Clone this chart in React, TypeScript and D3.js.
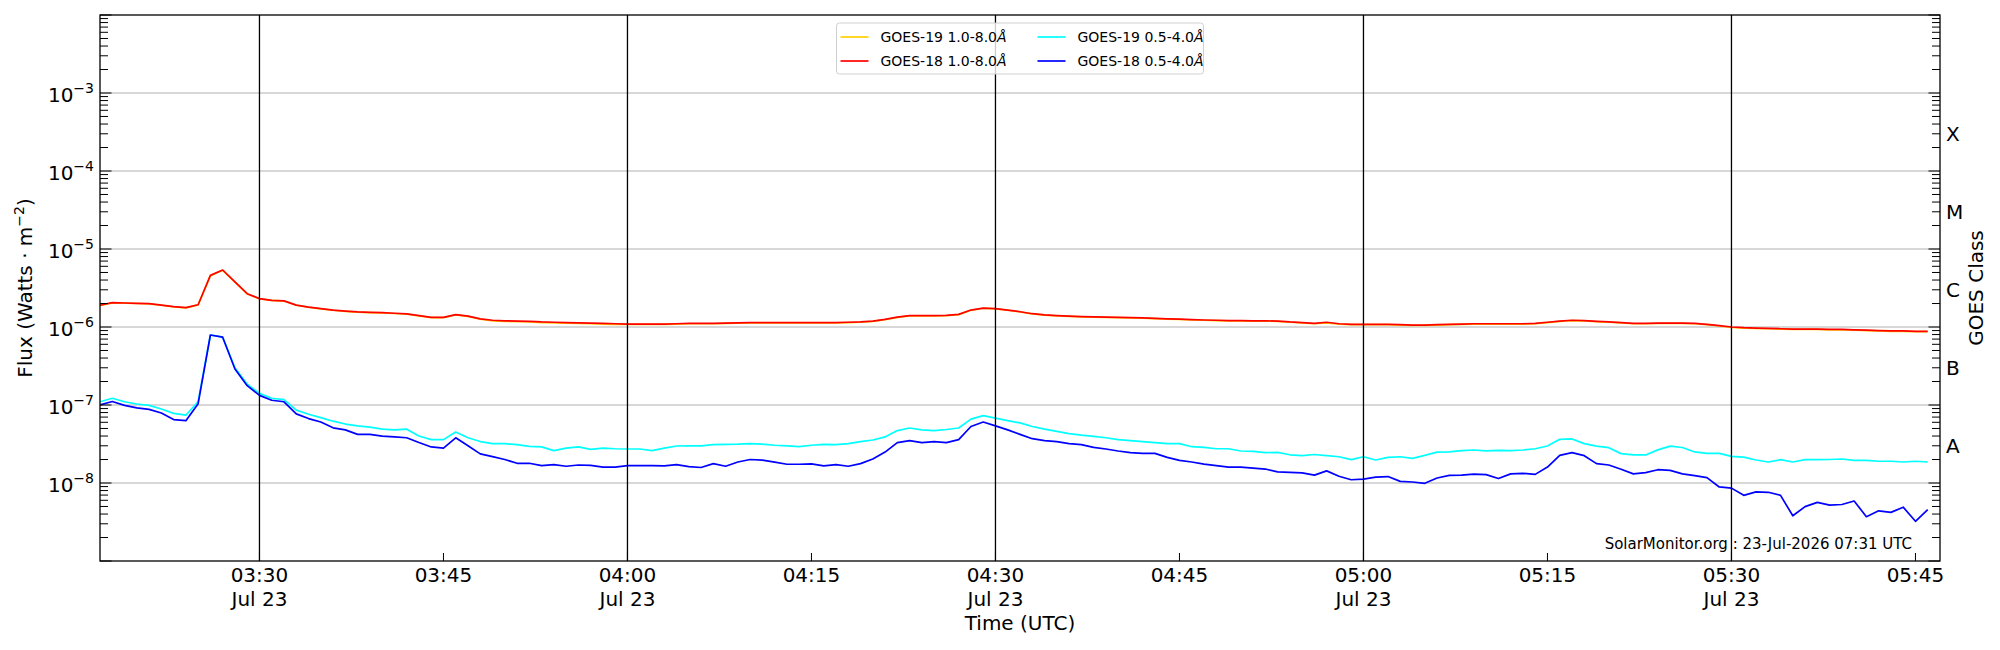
import { useEffect, useRef } from "react";
import * as d3 from "d3";

const WIDTH = 2000;
const HEIGHT = 650;
const MARGIN = { top: 15, right: 60, bottom: 89, left: 100 };
const FONT = "'DejaVu Sans', 'Liberation Sans', sans-serif";

// one-minute GOES/XRS samples starting 2026-07-23 03:17 UTC
const SAMPLE_START = Date.UTC(2026, 6, 23, 3, 17);
const SAMPLE_STEP_MS = 60_000;
const X_DOMAIN: [Date, Date] = [new Date(Date.UTC(2026, 6, 23, 3, 17)), new Date(Date.UTC(2026, 6, 23, 5, 47))];
const Y_DOMAIN: [number, number] = [1e-9, 1e-2];

const Y_TICK_EXPONENTS = [-8, -7, -6, -5, -4, -3];
const CLASS_LABELS = ["A", "B", "C", "M", "X"];
const CLASS_EXPONENTS = [-7.5, -6.5, -5.5, -4.5, -3.5];

// GOES-19 1.0-8.0 Å, units of 1e-6 W/m^2
const GOES19_LONG = [
  1.89, 2.04, 2.02, 2.0, 1.98, 1.9, 1.81, 1.76, 1.92, 4.55,
  5.33, 3.75, 2.65, 2.3, 2.19, 2.15, 1.9, 1.79, 1.71, 1.64,
  1.59, 1.55, 1.53, 1.52, 1.49, 1.46, 1.39, 1.32, 1.32, 1.43,
  1.37, 1.26, 1.2, 1.18, 1.17, 1.16, 1.14, 1.13, 1.12, 1.11,
  1.1, 1.09, 1.08, 1.08, 1.08, 1.08, 1.08, 1.09, 1.1, 1.1,
  1.1, 1.11, 1.12, 1.13, 1.13, 1.13, 1.13, 1.13, 1.13, 1.13,
  1.13, 1.14, 1.15, 1.18, 1.24, 1.33, 1.39, 1.39, 1.39, 1.4,
  1.44, 1.64, 1.74, 1.71, 1.64, 1.56, 1.47, 1.42, 1.39, 1.37,
  1.35, 1.34, 1.33, 1.32, 1.31, 1.3, 1.28, 1.26, 1.25, 1.23,
  1.22, 1.21, 1.2, 1.2, 1.19, 1.19, 1.18, 1.15, 1.13, 1.1,
  1.13, 1.09, 1.07, 1.07, 1.07, 1.07, 1.06, 1.05, 1.05, 1.06,
  1.07, 1.08, 1.09, 1.09, 1.09, 1.09, 1.09, 1.1, 1.14, 1.18,
  1.21, 1.2, 1.17, 1.15, 1.13, 1.1, 1.1, 1.11, 1.11, 1.11,
  1.1, 1.07, 1.03, 0.99, 0.97, 0.96, 0.95, 0.94, 0.93, 0.93,
  0.93, 0.92, 0.92, 0.91, 0.9, 0.89, 0.88, 0.88, 0.87, 0.87,
];

// GOES-18 1.0-8.0 Å, units of 1e-6 W/m^2
const GOES18_LONG = [
  1.9, 2.05, 2.03, 2.01, 1.99, 1.91, 1.82, 1.77, 1.93, 4.59,
  5.38, 3.78, 2.67, 2.31, 2.2, 2.16, 1.91, 1.8, 1.72, 1.65,
  1.6, 1.56, 1.54, 1.53, 1.5, 1.47, 1.4, 1.33, 1.33, 1.44,
  1.38, 1.27, 1.22, 1.2, 1.19, 1.18, 1.16, 1.15, 1.14, 1.13,
  1.12, 1.11, 1.1, 1.09, 1.09, 1.09, 1.09, 1.1, 1.11, 1.11,
  1.11, 1.12, 1.13, 1.14, 1.14, 1.14, 1.14, 1.14, 1.14, 1.14,
  1.14, 1.15, 1.16, 1.19, 1.25, 1.34, 1.4, 1.4, 1.4, 1.41,
  1.45, 1.65, 1.75, 1.72, 1.65, 1.57, 1.48, 1.43, 1.4, 1.38,
  1.36, 1.35, 1.34, 1.33, 1.32, 1.31, 1.29, 1.27, 1.26, 1.24,
  1.23, 1.22, 1.21, 1.21, 1.2, 1.2, 1.19, 1.16, 1.14, 1.11,
  1.15, 1.1, 1.08, 1.08, 1.08, 1.08, 1.07, 1.06, 1.06, 1.07,
  1.08, 1.09, 1.1, 1.1, 1.1, 1.1, 1.1, 1.11, 1.15, 1.19,
  1.22, 1.21, 1.18, 1.16, 1.14, 1.11, 1.11, 1.12, 1.12, 1.12,
  1.11, 1.08, 1.04, 1.0, 0.98, 0.97, 0.96, 0.95, 0.94, 0.94,
  0.94, 0.93, 0.93, 0.92, 0.91, 0.9, 0.89, 0.89, 0.88, 0.88,
];

// GOES-19 0.5-4.0 Å, units of 1e-8 W/m^2
const GOES19_SHORT = [
  11.0, 12.2, 11.0, 10.3, 9.9, 8.9, 7.8, 7.4, 11.1, 79,
  74, 30, 18.5, 14.1, 12.2, 11.7, 8.6, 7.6, 6.9, 6.2,
  5.7, 5.4, 5.2, 4.9, 4.8, 4.9, 4.0, 3.6, 3.6, 4.5,
  3.8, 3.4, 3.2, 3.2, 3.1, 2.95, 2.9, 2.6, 2.8, 2.9,
  2.7, 2.8, 2.75, 2.73, 2.73, 2.6, 2.8, 2.98, 3.0, 3.0,
  3.1, 3.13, 3.15, 3.2, 3.15, 3.05, 3.0, 2.92, 3.05, 3.12,
  3.1, 3.2, 3.4, 3.56, 3.9, 4.7, 5.07, 4.8, 4.7, 4.85,
  5.07, 6.6, 7.3, 6.8, 6.3, 5.9, 5.3, 4.9, 4.6, 4.3,
  4.1, 3.96, 3.8, 3.6, 3.5, 3.4, 3.3, 3.2, 3.2, 2.92,
  2.86, 2.75, 2.75, 2.57, 2.55, 2.45, 2.47, 2.3, 2.24, 2.32,
  2.24, 2.17, 1.99, 2.17, 1.97, 2.13, 2.17, 2.07, 2.26, 2.49,
  2.51, 2.6, 2.65, 2.58, 2.62, 2.6, 2.65, 2.75, 2.98, 3.63,
  3.67, 3.2, 2.97, 2.84, 2.38, 2.29, 2.29, 2.66, 2.97, 2.85,
  2.5, 2.4, 2.4, 2.19, 2.15, 1.97, 1.86, 1.99, 1.86, 1.99,
  1.99, 2.0, 2.03, 1.95, 1.95, 1.9, 1.9, 1.86, 1.9, 1.86,
];

// GOES-18 0.5-4.0 Å, units of 1e-8 W/m^2
const GOES18_SHORT = [
  10.0, 11.1, 9.9, 9.2, 8.8, 7.9, 6.5, 6.3, 10.4, 79,
  74, 29, 17.7, 13.3, 11.5, 11.0, 7.7, 6.7, 6.05, 5.1,
  4.8, 4.2, 4.2, 4.0, 3.9, 3.8, 3.3, 2.9, 2.8, 3.8,
  3.0, 2.36, 2.18, 2.0, 1.79, 1.79, 1.67, 1.72, 1.64, 1.7,
  1.68, 1.6, 1.6, 1.67, 1.67, 1.67, 1.66, 1.72, 1.62, 1.58,
  1.77, 1.64, 1.86, 2.0, 1.96, 1.85, 1.74, 1.74, 1.76, 1.66,
  1.72, 1.64, 1.77, 2.03, 2.49, 3.3, 3.5, 3.3, 3.4, 3.3,
  3.6, 5.3, 6.05, 5.4, 4.8, 4.2, 3.7, 3.5, 3.4, 3.2,
  3.1, 2.86, 2.73, 2.57, 2.45, 2.4, 2.4, 2.13, 1.95, 1.86,
  1.75, 1.67, 1.6, 1.6, 1.55, 1.51, 1.39, 1.37, 1.35, 1.26,
  1.43, 1.22, 1.1, 1.12, 1.19, 1.21, 1.05, 1.03, 0.99, 1.16,
  1.25, 1.26, 1.3, 1.28, 1.14, 1.31, 1.33, 1.29, 1.6, 2.26,
  2.45, 2.24, 1.77, 1.7, 1.5, 1.31, 1.36, 1.48, 1.45, 1.31,
  1.24, 1.17, 0.89, 0.86, 0.695, 0.77, 0.76, 0.695, 0.38, 0.498,
  0.565, 0.52, 0.53, 0.587, 0.37, 0.44, 0.42, 0.49, 0.323, 0.455,
];

type Series = { name: string; color: string; unit: number; values: number[] };

// draw order = legend order (column-major, two columns)
const SERIES: Series[] = [
  { name: "GOES-19 1.0-8.0", color: "#ffd000", unit: 1e-6, values: GOES19_LONG },
  { name: "GOES-18 1.0-8.0", color: "#ff0000", unit: 1e-6, values: GOES18_LONG },
  { name: "GOES-19 0.5-4.0", color: "#00ffff", unit: 1e-8, values: GOES19_SHORT },
  { name: "GOES-18 0.5-4.0", color: "#0000ff", unit: 1e-8, values: GOES18_SHORT },
];

export default function App() {
  const svgRef = useRef<SVGSVGElement>(null);

  useEffect(() => {
    const svgElement = svgRef.current;
    if (!svgElement) return;

    const svg = d3.select(svgElement);
    svg.selectAll("*").remove();

    const left = MARGIN.left;
    const right = WIDTH - MARGIN.right;
    const top = MARGIN.top;
    const bottom = HEIGHT - MARGIN.bottom;

    const x = d3.scaleUtc().domain(X_DOMAIN).range([left, right]);
    const y = d3.scaleLog().domain(Y_DOMAIN).range([bottom, top]);

    svg.append("rect").attr("width", WIDTH).attr("height", HEIGHT).attr("fill", "#fff");

    // horizontal decade grid
    svg
      .append("g")
      .selectAll("line")
      .data(Y_TICK_EXPONENTS)
      .join("line")
      .attr("x1", left)
      .attr("x2", right)
      .attr("y1", (p) => y(Math.pow(10, p)))
      .attr("y2", (p) => y(Math.pow(10, p)))
      .attr("stroke", "#b0b0b0")
      .attr("stroke-width", 1);

    // flux lines
    const line = d3
      .line<number>()
      .x((_, i) => x(new Date(SAMPLE_START + i * SAMPLE_STEP_MS)))
      .y((d) => y(d));

    const clip = svg.append("clipPath").attr("id", "plot-clip");
    clip.append("rect").attr("x", left).attr("y", top).attr("width", right - left).attr("height", bottom - top);

    svg
      .append("g")
      .attr("clip-path", "url(#plot-clip)")
      .selectAll("path")
      .data(SERIES)
      .join("path")
      .attr("d", (s) => line(s.values.map((v) => v * s.unit)))
      .attr("fill", "none")
      .attr("stroke", (s) => s.color)
      .attr("stroke-width", 1.7)
      .attr("stroke-linejoin", "round");

    // half-hour markers
    const halfHours = x.ticks(d3.utcMinute.every(30)!).filter((t) => t > X_DOMAIN[0] && t < X_DOMAIN[1]);
    svg
      .append("g")
      .selectAll("line")
      .data(halfHours)
      .join("line")
      .attr("x1", (t) => x(t))
      .attr("x2", (t) => x(t))
      .attr("y1", top)
      .attr("y2", bottom)
      .attr("stroke", "#000")
      .attr("stroke-width", 1.3);

    // y ticks, both sides, pointing inwards
    const decades = d3.range(-9, -1);
    const minors = decades
      .slice(0, -1)
      .flatMap((p) => d3.range(2, 10).map((k) => k * Math.pow(10, p)));
    const ticks = svg.append("g").attr("stroke", "#000").attr("stroke-width", 1);
    for (const side of [left, right]) {
      const dir = side === left ? 1 : -1;
      ticks
        .append("g")
        .selectAll("line")
        .data(minors)
        .join("line")
        .attr("x1", side)
        .attr("x2", side + dir * 8)
        .attr("y1", (v) => y(v))
        .attr("y2", (v) => y(v));
      ticks
        .append("g")
        .selectAll("line")
        .data(decades)
        .join("line")
        .attr("x1", side)
        .attr("x2", side + dir * 11.5)
        .attr("y1", (p) => y(Math.pow(10, p)))
        .attr("y2", (p) => y(Math.pow(10, p)));
    }

    // x ticks every 15 minutes
    const xTicks = x.ticks(d3.utcMinute.every(15)!).filter((t) => t > X_DOMAIN[0] && t < X_DOMAIN[1]);
    ticks
      .append("g")
      .selectAll("line")
      .data(xTicks)
      .join("line")
      .attr("x1", (t) => x(t))
      .attr("x2", (t) => x(t))
      .attr("y1", bottom)
      .attr("y2", bottom - 8);

    const text = svg.append("g").attr("font-family", FONT).attr("fill", "#000");

    const xLabels = text
      .append("g")
      .attr("font-size", 20)
      .attr("text-anchor", "middle")
      .selectAll("text")
      .data(xTicks)
      .join("text")
      .attr("x", (t) => x(t))
      .attr("y", bottom + 21);
    xLabels.append("tspan").text((t) => d3.utcFormat("%H:%M")(t));
    xLabels
      .filter((t) => t.getUTCMinutes() % 30 === 0)
      .append("tspan")
      .attr("x", (t) => x(t))
      .attr("dy", 23.5)
      .text((t) => d3.utcFormat("%b %-d")(t));

    // left power-of-ten labels
    const yLabels = text
      .append("g")
      .attr("font-size", 20)
      .attr("text-anchor", "end")
      .selectAll("text")
      .data(Y_TICK_EXPONENTS)
      .join("text")
      .attr("x", left - 6)
      .attr("y", (p) => y(Math.pow(10, p)) + 8.5);
    yLabels.append("tspan").text("10");
    yLabels
      .append("tspan")
      .attr("dy", -8.5)
      .attr("font-size", 14)
      .text((p) => `\u2212${Math.abs(p)}`);

    // GOES class labels on the right
    text
      .append("g")
      .attr("font-size", 20)
      .selectAll("text")
      .data(CLASS_LABELS)
      .join("text")
      .attr("x", right + 6)
      .attr("y", (_, i) => y(Math.pow(10, CLASS_EXPONENTS[i])) + 9)
      .text((d) => d);

    text
      .append("text")
      .attr("x", (left + right) / 2)
      .attr("y", HEIGHT - 20)
      .attr("text-anchor", "middle")
      .attr("font-size", 20)
      .text("Time (UTC)");

    const yTitle = text
      .append("text")
      .attr("transform", `translate(32,${(top + bottom) / 2}) rotate(-90)`)
      .attr("text-anchor", "middle")
      .attr("font-size", 20);
    yTitle.append("tspan").text("Flux (Watts \u00b7 m");
    yTitle.append("tspan").attr("dy", -8).attr("font-size", 14).text("\u22122");
    yTitle.append("tspan").attr("dy", 8).text(")");

    text
      .append("text")
      .attr("transform", `translate(${WIDTH - 17},${(top + bottom) / 2}) rotate(-90)`)
      .attr("text-anchor", "middle")
      .attr("font-size", 20)
      .text("GOES Class");

    text
      .append("text")
      .attr("x", right - 28)
      .attr("y", bottom - 12)
      .attr("text-anchor", "end")
      .attr("font-size", 15)
      .text("SolarMonitor.org : 23-Jul-2026 07:31 UTC");

    // legend, upper centre
    const legendW = 367;
    const legendH = 51;
    const legend = svg
      .append("g")
      .attr("transform", `translate(${(left + right) / 2 - legendW / 2},${top + 8})`);
    legend
      .append("rect")
      .attr("width", legendW)
      .attr("height", legendH)
      .attr("rx", 3)
      .attr("fill", "#fff")
      .attr("fill-opacity", 0.8)
      .attr("stroke", "#d0d0d0")
      .attr("stroke-width", 1);
    const entries = legend
      .selectAll("g.entry")
      .data(SERIES)
      .join("g")
      .attr("class", "entry")
      .attr("transform", (_, i) => `translate(${Math.floor(i / 2) * 197},${14 + (i % 2) * 24})`);
    entries
      .append("line")
      .attr("x1", 4)
      .attr("x2", 32)
      .attr("stroke", (s) => s.color)
      .attr("stroke-width", 1.7);
    const labels = entries
      .append("text")
      .attr("x", 44)
      .attr("y", 5)
      .attr("font-family", FONT)
      .attr("font-size", 14)
      .attr("fill", "#000");
    labels.append("tspan").text((s) => s.name);
    labels.append("tspan").attr("font-style", "italic").text("\u00c5");

    // frame
    svg
      .append("rect")
      .attr("x", left)
      .attr("y", top)
      .attr("width", right - left)
      .attr("height", bottom - top)
      .attr("fill", "none")
      .attr("stroke", "#000")
      .attr("stroke-width", 1.3);
  }, []);

  return (
    <svg
      ref={svgRef}
      width={WIDTH}
      height={HEIGHT}
      style={{ position: "absolute", left: 0, top: 0, display: "block" }}
      role="img"
      aria-label="GOES X-ray flux, 23 July 2026"
    />
  );
}
